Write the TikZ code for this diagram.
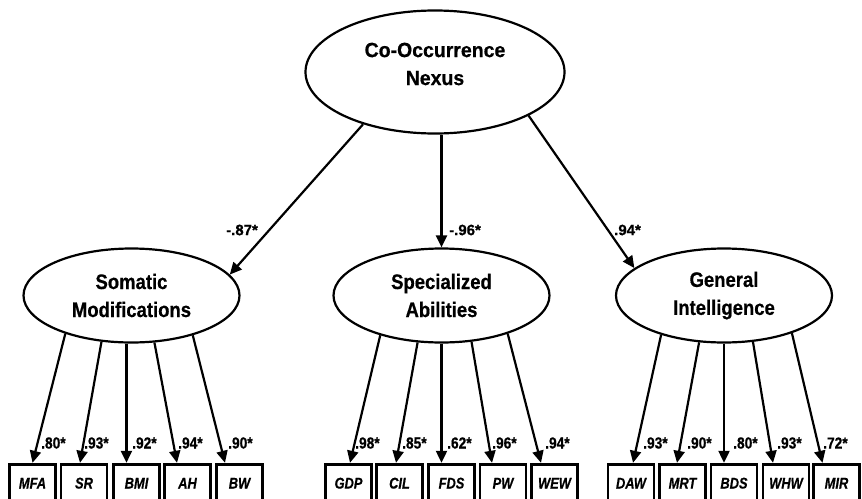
\documentclass[tikz,border=0pt]{standalone}
\usepackage{fontspec}
\setmainfont{Liberation Sans}
\newfontfamily\topf{Liberation Sans}[FakeStretch=0.95,FakeBold=0.6]
\newfontfamily\coeff{Liberation Sans}[FakeStretch=1.0,FakeBold=0.6]
\newfontfamily\latf{Liberation Sans}[FakeStretch=0.88,FakeBold=0.6]
\newfontfamily\smallf{Liberation Sans}[FakeStretch=0.86,FakeBold=0.6]
\newfontfamily\boxf{Liberation Sans}[FakeStretch=0.83,FakeBold=0.6]
\usetikzlibrary{arrows.meta,shapes.geometric,calc}
\begin{document}
\begin{tikzpicture}[x=1pt,y=-1pt,
  lat/.style={ellipse,draw,line width=2.2pt,minimum width=216pt,minimum height=94pt,inner sep=0pt,align=center,
    font=\latf\bfseries\fontsize{21}{28}\selectfont},
  obs/.style={rectangle,draw,line width=2.8pt,minimum width=46pt,minimum height=38pt,inner sep=0pt,
    font=\boxf\bfseries\itshape\fontsize{15.5}{18}\selectfont},
  arr/.style={line width=2.2pt,-{Triangle[length=12pt,width=11pt]}},
  coef/.style={font=\smallf\bfseries\fontsize{16}{18}\selectfont,inner sep=0pt,anchor=west},
  tcoef/.style={font=\coeff\bfseries\fontsize{15}{18}\selectfont,inner sep=0pt,anchor=west}]
\path[fill=white,use as bounding box] (0,0) rectangle (862,498);

% latent variables
\node[ellipse,draw,line width=2.2pt,minimum width=259pt,minimum height=123pt,inner sep=0pt] (top) at (435,72) {};
\node[align=center,font=\topf\bfseries\fontsize{20.5}{28}\selectfont] (toptxt) at (435,64) {Co-Occurrence\\Nexus};
\node[lat] (som) at (131.5,295.5) {Somatic\\Modifications};
\node[lat] (spec) at (441.5,295.5) {Specialized\\Abilities};
\node[lat] (gen) at (724,295.5) {General\\Intelligence};

% observed variables
\node[obs] (s1) at (32.5,483.2) {MFA};
\node[obs] (s2) at (84,483.2) {SR};
\node[obs] (s3) at (136.5,483.2) {BMI};
\node[obs] (s4) at (187.5,483.2) {AH};
\node[obs] (s5) at (239.5,483.2) {BW};

\node[obs] (p1) at (348.5,483.2) {GDP};
\node[obs] (p2) at (399.5,483.2) {CIL};
\node[obs] (p3) at (451.5,483.2) {FDS};
\node[obs] (p4) at (503,483.2) {PW};
\node[obs] (p5) at (554.5,483.2) {WEW};

\node[obs] (g1) at (631,483.2) {DAW};
\node[obs] (g2) at (682.5,483.2) {MRT};
\node[obs] (g3) at (734,483.2) {BDS};
\node[obs] (g4) at (786,483.2) {WHW};
\node[obs] (g5) at (836.5,483.2) {MIR};

% structural paths
\draw[arr] (top.216.4) -- (som.12.9);
\draw[arr] (spec.north |- top.south) -- (spec.north);
\draw[arr] (top.335.3) -- (gen.163.6);
\node[tcoef] (c1) at (226,230) {-.87*};
\node[tcoef] (c2) at (449,230) {-.96*};
\node[tcoef] (c3) at (614,230) {.94*};

% loadings: somatic
\draw[arr] (som.210.6) -- ([xshift=0pt]s1.north);
\draw[arr] (som.237.2) -- ([xshift=-4pt]s2.north);
\draw[arr] (som.264.6) -- (som.264.6 |- s3.north);
\draw[arr] (som.296.9) -- ([xshift=-10.5pt]s4.north);
\draw[arr] (som.327.6) -- ([xshift=-14.5pt]s5.north);
\node[coef] (ls1) at (41,443) {.80*};
\node[coef] (ls2) at (84,443) {.93*};
\node[coef] (ls3) at (132,443) {.92*};
\node[coef] (ls4) at (178,443) {.94*};
\node[coef] (ls5) at (228,443) {.90*};

% loadings: specialized
\draw[arr] (spec.213.7) -- ([xshift=1.5pt]p1.north);
\draw[arr] (spec.243.1) -- ([xshift=-3.5pt]p2.north);
\draw[arr] (spec.south) -- (spec.south |- p3.north);
\draw[arr] (spec.303.8) -- ([xshift=-11pt]p4.north);
\draw[arr] (spec.330.6) -- ([xshift=-13.5pt]p5.north);
\node[coef] (lp1) at (355,443) {.98*};
\node[coef] (lp2) at (402,443) {.85*};
\node[coef] (lp3) at (447,443) {.62*};
\node[coef] (lp4) at (492,443) {.96*};
\node[coef] (lp5) at (545,443) {.94*};

% loadings: general
\draw[arr] (gen.212.9) -- ([xshift=2pt]g1.north);
\draw[arr] (gen.242.6) -- ([xshift=-5.5pt]g2.north);
\draw[arr] (gen.south) -- (gen.south |- g3.north);
\draw[arr] (gen.302.3) -- ([xshift=-13pt]g4.north);
\draw[arr] (gen.331.4) -- ([xshift=-14pt]g5.north);
\node[coef] (lg1) at (643,443) {.93*};
\node[coef] (lg2) at (687,443) {.90*};
\node[coef] (lg3) at (733,443) {.80*};
\node[coef] (lg4) at (777,443) {.93*};
\node[coef] (lg5) at (823,443) {.72*};
\end{tikzpicture}
\end{document}
